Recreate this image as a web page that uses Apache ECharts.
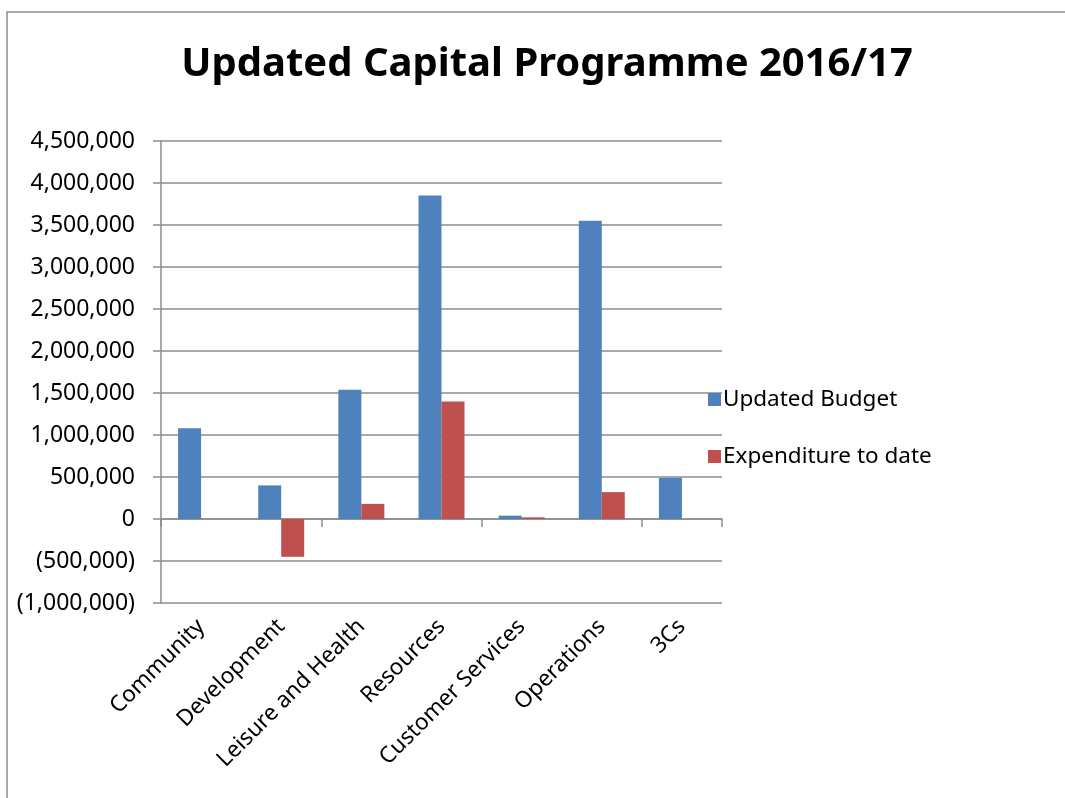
<!DOCTYPE html>
<html>
<head>
<meta charset="utf-8">
<script src="https://cdn.jsdelivr.net/npm/echarts@6/dist/echarts.min.js"></script>
<style>
  html, body { margin: 0; padding: 0; background: #fff; }
  #chart { width: 1065px; height: 798px; }
</style>
</head>
<body>
<div id="chart"></div>
<script>
// data
const categories = ["Community", "Development", "Leisure and Health", "Resources", "Customer Services", "Operations", "3Cs"];
const updatedBudget = [1080000, 400000, 1540000, 3850000, 40000, 3550000, 490000];
const expenditureToDate = [0, -450000, 180000, 1400000, 20000, 320000, 0];
const seriesNames = ["Updated Budget", "Expenditure to date"];

const FONT = "Noto Sans";
const GRID_COLOR = "#8c8c8c";

// 1,000,000 / (1,000,000) style labels
function fmt(v) {
  const s = Math.abs(v).toString().replace(/\B(?=(\d{3})+(?!\d))/g, ",");
  return v < 0 ? "(" + s + ")" : s;
}

const chart = echarts.init(document.getElementById("chart"));

const option = {
  backgroundColor: "#fff",
  animation: false,
  title: {
    text: "Updated Capital Programme 2016/17",
    left: 542,
    textAlign: "center",
    top: 40,
    textStyle: { fontFamily: FONT, fontWeight: "bold", fontSize: 40, color: "#000" },
  },
  graphic: [
    {
      type: "rect",
      shape: { x: 7, y: 12, width: 1080, height: 820 },
      style: { fill: "none", stroke: GRID_COLOR, lineWidth: 1.5 },
      silent: true,
    },
  ],
  legend: {
    orient: "vertical",
    left: 703,
    top: 383,
    itemWidth: 13,
    itemHeight: 13,
    itemGap: 34,
    icon: "rect",
    textStyle: { fontFamily: FONT, fontSize: 22.5, color: "#000", lineHeight: 22, padding: [0, 0, 0, -3] },
    data: seriesNames,
  },
  grid: { left: 161, right: 343, top: 141, bottom: 195 },
  xAxis: [
    {
      type: "category",
      data: categories,
      axisLine: { onZero: true, lineStyle: { color: GRID_COLOR, width: 1.5 } },
      axisTick: { show: true, length: 8, lineStyle: { color: GRID_COLOR, width: 1.5 } },
      axisLabel: { show: false },
    },
    {
      type: "category",
      data: categories,
      position: "bottom",
      axisLine: { show: false, onZero: false },
      axisTick: { show: false },
      axisLabel: {
        rotate: 45,
        margin: 20,
        interval: 0,
        fontFamily: FONT,
        fontSize: 22.5,
        color: "#000",
      },
    },
  ],
  yAxis: {
    type: "value",
    min: -1000000,
    max: 4500000,
    interval: 500000,
    axisLine: { show: true, lineStyle: { color: GRID_COLOR, width: 1.5 } },
    axisTick: { show: true, length: 8, lineStyle: { color: GRID_COLOR, width: 1.5 } },
    splitLine: { lineStyle: { color: GRID_COLOR, width: 1.5 } },
    axisLabel: {
      margin: 26,
      fontFamily: FONT,
      fontSize: 23,
      color: "#000",
      formatter: fmt,
    },
  },
  series: [
    {
      name: seriesNames[0],
      type: "bar",
      xAxisIndex: 0,
      data: updatedBudget,
      barWidth: 23,
      barGap: "0%",
      itemStyle: { color: "#4F81BD" },
    },
    {
      name: seriesNames[1],
      type: "bar",
      xAxisIndex: 0,
      data: expenditureToDate,
      barWidth: 23,
      barGap: "0%",
      itemStyle: { color: "#C0504D" },
    },
  ],
};

chart.setOption(option);
</script>
</body>
</html>
